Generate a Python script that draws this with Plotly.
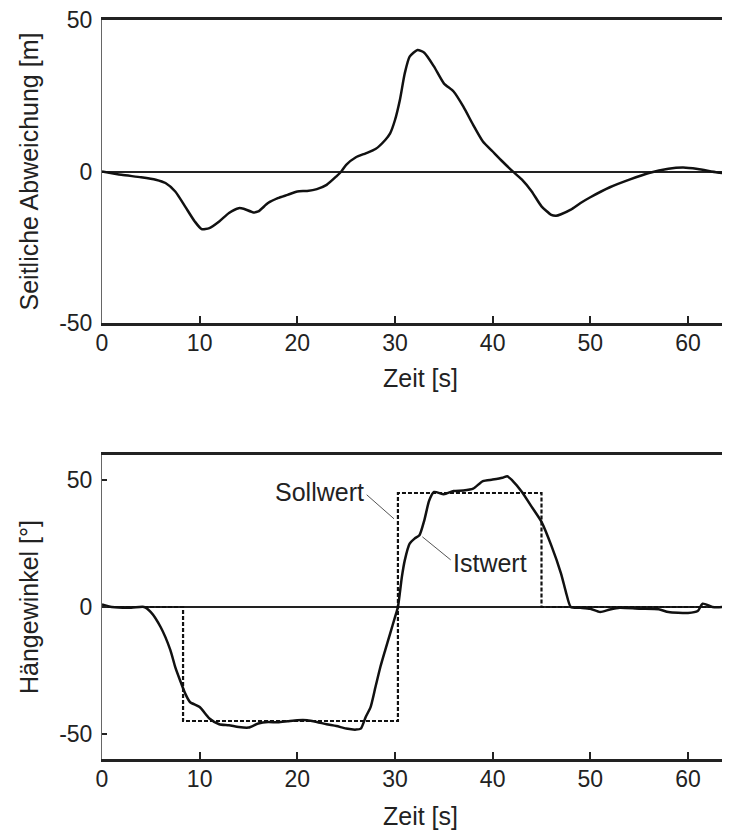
import plotly.graph_objects as go

# ---- Data: Seitliche Abweichung (top) ----
t_dev = [0, 2, 4, 5.5, 6.5, 7.5, 8.5, 9.5, 10.2, 11, 12, 13, 14, 14.5, 15.5, 16, 17, 18, 19, 20,
         21, 22, 23, 24, 24.5, 25, 26, 27, 28, 29, 29.5, 30, 30.5, 31, 31.5, 32.3, 33, 34, 35, 36,
         37, 38, 39, 40, 41, 42, 43, 44, 45, 46, 46.5, 47, 48, 49, 50, 52, 54, 56, 58, 59.5,
         61, 63, 64.5]
dev = [0, -1.1, -1.9, -2.7, -3.8, -6.6, -11.5, -16.5, -19, -18.7, -16.5, -13.7, -12.1, -12.3, -13.5, -13.2, -10.4, -8.8, -7.7, -6.6,
       -6.4, -5.8, -4.4, -1.6, 0, 2.2, 4.7, 6.0, 7.4, 10.4, 12.6, 17, 23.6, 32.4, 37.9, 40.1, 39.2, 34.6, 29.1, 26.4,
       21.4, 15.4, 9.9, 6.6, 3.3, 0.2, -2.7, -6.6, -11.5, -14.3, -14.6, -14.1, -12.6, -10.4, -8.5, -5.2, -2.7, -0.5, 0.9, 1.3,
       0.8, -0.3, -0.8]

# ---- Data: Hängewinkel (bottom) ----
t_soll = [0, 8.3, 30.3, 45.0, 64.5]
soll = [0, -45, 45, 0, 0]

t_ist = [0, 1, 3, 4.3, 5, 6, 7, 7.5, 8, 8.5, 9, 10, 11, 12, 13, 14, 15, 16, 17, 18,
         19, 20, 21, 22, 23, 24, 25, 26, 26.5, 27, 27.5, 28, 28.5, 29, 29.5, 30, 30.3, 30.7, 31, 31.5,
         32, 32.5, 33, 33.5, 34, 35, 36, 37, 38, 39, 40, 41, 41.5, 42, 43, 44, 45, 46, 47, 47.5,
         48, 49, 50, 51, 52, 53, 55, 57, 58, 60, 61, 61.5, 62.5, 63.5, 64.5]
ist = [1, 0, -0.3, 0, -2, -7.9, -17, -23.7, -29, -34, -37.5, -39.5, -44, -46.3, -46.7, -47.4, -47.6, -46, -45.4, -45.5,
       -45.1, -44.7, -44.7, -45.4, -46.3, -47, -48, -48.4, -48, -43.4, -39.5, -31.6, -23.7, -17, -10.5, -4, 0, 11.8, 18.4, 25,
       27, 28.3, 34.2, 42, 45.4, 44.5, 45.8, 46, 46.7, 49.7, 50.3, 51, 51.6, 50, 45.4, 39.5, 33.6, 24.3, 13.2, 5.9,
       0, -0.3, -0.7, -2, -1, -0.3, -0.7, -0.9, -2, -2.4, -1.6, 1.3, 0, 0, 0.7]

x_ticks = [0, 10, 20, 30, 40, 50, 60]
y_ticks = [-50, 0, 50]
y_ticktext = ["-50", "0", "50"]

FONT = "Liberation Sans, Arial, sans-serif"
FS = 23
FT = 25
TXT = "#222"

fig = go.Figure()
fig.add_trace(go.Scatter(x=t_dev, y=dev, mode="lines", line=dict(color="#111", width=2.5, shape="spline", smoothing=0.6),
                         xaxis="x", yaxis="y", showlegend=False))
fig.add_trace(go.Scatter(x=t_soll, y=soll, mode="lines", line=dict(color="#111", width=2.2, shape="hv", dash="4px,2px"),
                         xaxis="x2", yaxis="y2", showlegend=False))
fig.add_trace(go.Scatter(x=t_ist, y=ist, mode="lines", line=dict(color="#111", width=2.5, shape="spline", smoothing=0.6),
                         xaxis="x2", yaxis="y2", showlegend=False))

axis_x = dict(range=[0, 64.3], tickvals=x_ticks, ticks="inside", ticklen=7, tickwidth=2, tickcolor="#222",
              showline=True, linewidth=3, linecolor="#222", mirror=True, showgrid=False, zeroline=False,
              ticklabelstandoff=-3, ticklabeloverflow="allow",
              tickfont=dict(family=FONT, size=FS, color=TXT))

D_TOP = [0.590, 1]
D_BOT = [0, 0.4114]

fig.update_layout(
    width=722, height=824,
    margin=dict(l=94, r=0, t=12, b=73),
    paper_bgcolor="white", plot_bgcolor="white",
    xaxis=dict(axis_x, domain=[0, 1], anchor="y"),
    yaxis=dict(domain=D_TOP, range=[-50, 50], tickvals=y_ticks, ticktext=y_ticktext, ticks="",
               showline=True, linewidth=1, linecolor="#666", showgrid=False,
               zeroline=True, zerolinecolor="#222", zerolinewidth=1.5,
               ticklabelstandoff=4, ticklabeloverflow="allow",
               tickfont=dict(family=FONT, size=FS, color=TXT), anchor="x"),
    xaxis2=dict(axis_x, domain=[0, 1], anchor="y2"),
    yaxis2=dict(domain=D_BOT, range=[-60, 60], tickvals=y_ticks, ticktext=y_ticktext, ticks="inside", ticklen=5,
                tickwidth=1.5, tickcolor="#222",
                showline=True, linewidth=1, linecolor="#666", showgrid=False,
                zeroline=True, zerolinecolor="#222", zerolinewidth=1.5,
                ticklabelstandoff=4, ticklabeloverflow="allow",
                tickfont=dict(family=FONT, size=FS, color=TXT), anchor="x2"),
    annotations=[
        # axis titles
        dict(x=0, y=(D_TOP[0] + D_TOP[1]) / 2, xref="paper", yref="paper", xshift=-73, textangle=-90,
             xanchor="center", yanchor="middle", text="Seitliche Abweichung [m]", showarrow=False,
             font=dict(family=FONT, size=FT, color=TXT)),
        dict(x=0, y=(D_BOT[0] + D_BOT[1]) / 2, xref="paper", yref="paper", xshift=-73, textangle=-90,
             xanchor="center", yanchor="middle", text="Hängewinkel [°]", showarrow=False,
             font=dict(family=FONT, size=FT, color=TXT)),
        dict(x=0.5, y=D_TOP[0], xref="paper", yref="paper", xshift=4, yshift=-55,
             xanchor="center", yanchor="middle", text="Zeit [s]", showarrow=False,
             font=dict(family=FONT, size=FT, color=TXT)),
        dict(x=0.5, y=D_BOT[0], xref="paper", yref="paper", xshift=4, yshift=-57,
             xanchor="center", yanchor="middle", text="Zeit [s]", showarrow=False,
             font=dict(family=FONT, size=FT, color=TXT)),
        # labels
        dict(x=22.3, y=45.3, xref="x2", yref="y2", text="Sollwert", showarrow=False,
             font=dict(family=FONT, size=FT, color=TXT)),
        dict(x=39.7, y=17.4, xref="x2", yref="y2", text="Istwert", showarrow=False,
             font=dict(family=FONT, size=FT, color=TXT)),
    ],
    shapes=[
        dict(type="line", xref="x2", yref="y2", x0=27.1, y0=44.3, x1=29.9, y1=34.8,
             line=dict(color="#555", width=1)),
        dict(type="line", xref="x2", yref="y2", x0=32.8, y0=27.7, x1=35.7, y1=18.6,
             line=dict(color="#555", width=1)),
    ],
)

fig.write_html("out.html")
